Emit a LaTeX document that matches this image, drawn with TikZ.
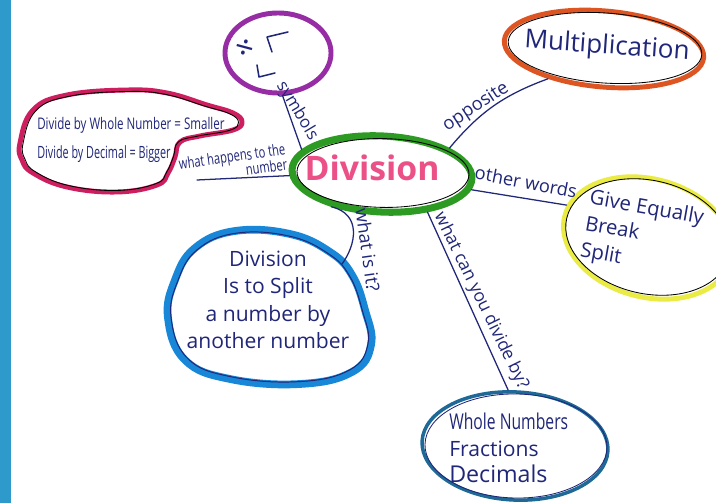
\documentclass[tikz,border=0pt]{standalone}
\usepackage{fontspec}
\setmainfont{Open Sans}
\newfontfamily\narrowhand[FakeStretch=0.72]{Open Sans}
\newfontfamily\narrowerhand[FakeStretch=0.64]{Open Sans}
\usetikzlibrary{shapes.geometric}

\definecolor{barblue}{RGB}{46,154,204}
\definecolor{inkblue}{RGB}{32,38,120}
\definecolor{divgreen}{RGB}{45,155,35}
\definecolor{divpink}{RGB}{235,80,135}
\definecolor{multorange}{RGB}{220,85,35}
\definecolor{giveyellow}{RGB}{235,235,70}
\definecolor{wholeteal}{RGB}{30,105,150}
\definecolor{symviolet}{RGB}{150,45,165}
\definecolor{pinkred}{RGB}{205,30,95}
\definecolor{splitblue}{RGB}{25,135,215}

\begin{document}
\begin{tikzpicture}[x=0.025cm, y=-0.025cm, line cap=round, line join=round,
	ink/.style={draw=inkblue, line width=0.9pt},
	hand/.style={text=inkblue, inner sep=0pt},
	bubble/.style={ellipse, inner sep=0pt},
	rim/.style={ellipse, inner sep=0pt, draw=black, line width=0.6pt},
]

% frame %{{{2

	\useasboundingbox (0,0) rectangle (716,503);
	\fill[white] (0,0) rectangle (716,503);
	\fill[barblue] (0,0) rectangle (11,503);

% bubbles %{{{2

	\node[bubble, draw=divgreen, line width=5pt, minimum width=4.5cm, minimum height=1.9cm, rotate=-3] (div) at (382,174) {};
	\node[rim, minimum width=4.3cm, minimum height=1.72cm, rotate=-1] (divrim) at (383,173) {};

	\node[bubble, draw=multorange, line width=3.5pt, minimum width=5cm, minimum height=1.9cm, rotate=-5] (mult) at (604,49) {};
	\node[rim, minimum width=4.85cm, minimum height=1.75cm, rotate=-4] (multrim) at (605,48) {};

	\node[bubble, draw=giveyellow, line width=3.5pt, minimum width=4.3cm, minimum height=2.95cm, rotate=-15] (give) at (648,238) {};
	\node[rim, minimum width=4.17cm, minimum height=2.83cm, rotate=-13] (giverim) at (648,237) {};

	\node[bubble, draw=wholeteal, line width=2.5pt, minimum width=4.65cm, minimum height=2.7cm, rotate=-3] (whole) at (515,446) {};
	\node[rim, draw=inkblue, minimum width=4.55cm, minimum height=2.6cm, rotate=-1] (wholerim) at (516,446) {};

	\node[bubble, draw=symviolet, line width=3.5pt, minimum width=2.65cm, minimum height=2cm] (sym) at (278,53) {};

% blobs %{{{2

	\draw[pinkred, line width=3.5pt] plot[smooth cycle, tension=0.7] coordinates {
		(20,143) (33,110) (67,95) (127,90) (167,93) (207,105) (233,113) (242,122)
		(233,130) (200,136) (180,142) (175,157) (168,173) (157,185) (117,192)
		(67,187) (33,173) (22,160)};
	\draw[black, line width=0.6pt, scale around={0.97:(125,140)}] plot[smooth cycle, tension=0.7] coordinates {
		(20,143) (33,110) (67,95) (127,90) (167,93) (207,105) (233,113) (242,122)
		(233,130) (200,136) (180,142) (175,157) (168,173) (157,185) (117,192)
		(67,187) (33,173) (22,160)};

	\draw[splitblue, line width=5.5pt] plot[smooth cycle, tension=0.7] coordinates {
		(168,318) (175,280) (195,248) (235,231) (290,234) (330,252) (352,275)
		(365,310) (371,345) (352,372) (300,384) (230,379) (185,360)};
	\draw[inkblue, line width=0.7pt, scale around={0.97:(270,305)}] plot[smooth cycle, tension=0.7] coordinates {
		(168,318) (175,280) (195,248) (235,231) (290,234) (330,252) (352,275)
		(365,310) (371,345) (352,372) (300,384) (230,379) (185,360)};

	\coordinate (blueedge) at (342,264);
	\coordinate (hapend) at (197,180);

% symbols %{{{2

	\node[text=inkblue, font=\fontsize{24}{24}\selectfont, rotate=-15] (divsign) at (244,50) {÷};
	\draw[ink, line width=1.1pt] (267,37) -- (288,32) (267,37) -- (272,52);
	\draw[ink, line width=1.1pt] (257,65) -- (259,77) -- (275,73);

% connectors %{{{2

	\draw[ink] (sym.-84) -- (div.166);
	\draw[ink] (div.24) to[bend left=15] (mult.213);
	\draw[ink] (div.-7) -- (give.173);
	\draw[ink] (hapend) -- (div.184);
	\draw[ink] (div.216) .. controls (362,214) and (356,245) .. (blueedge);
	\draw[ink] (div.-37) -- (whole.100);

% texts %{{{2

	\node[hand, font=\fontsize{24}{24}\selectfont\bfseries, text=divpink] (divT) at (372,168) {Division};
	\node[hand, font=\fontsize{18.5}{20}\selectfont, rotate=-4] (multT) at (607,47) {Multiplication};
	\node[hand, align=left, font=\fontsize{14.5}{19}\selectfont, rotate=-10] (giveT) at (642,235) {Give Equally\\Break\\Split};
	\node[hand, align=center, font=\fontsize{15}{19.5}\selectfont] (splitT) at (268,300) {Division\\Is to Split\\a number by\\another number};
	\node[hand, align=left, anchor=west, font=\fontsize{15}{19}\selectfont] (wholeT) at (449,448)
		{{\narrowhand\fontsize{15.5}{19}\selectfont Whole Numbers}\\
		{\fontsize{15}{19}\selectfont Fractions}\\
		{\fontsize{16.5}{19}\selectfont Decimals}};
	\node[hand, align=left, anchor=west, font=\fontsize{11}{20}\selectfont] (pinkT) at (37,140)
		{{\narrowhand\fontsize{11.4}{20}\selectfont Divide by Whole Number = Smaller}\\
		{\narrowerhand\fontsize{12}{20}\selectfont Divide by Decimal = Bigger}};

% labels %{{{2

	\node[hand, font=\fontsize{12}{12}\selectfont, rotate=-59] (symL) at (297,111) {symbols};
	\node[hand, font=\fontsize{13}{13}\selectfont, rotate=33] (oppL) at (476,107) {opposite};
	\node[hand, font=\fontsize{13}{13}\selectfont, rotate=-11] (othL) at (526,182) {other words};
	\node[hand, font=\fontsize{13}{13}\selectfont, rotate=-82] (whatL) at (368,250) {what is it?};
	\node[hand, font=\fontsize{12.5}{12.5}\selectfont, rotate=-64] (canL) at (481,301) {what can you divide by?};
	\node[hand, align=right, font=\narrowhand\fontsize{11}{11}\selectfont, rotate=8] (hapL) at (233,164) {what happens to the\\number};

\end{tikzpicture}
\end{document}
